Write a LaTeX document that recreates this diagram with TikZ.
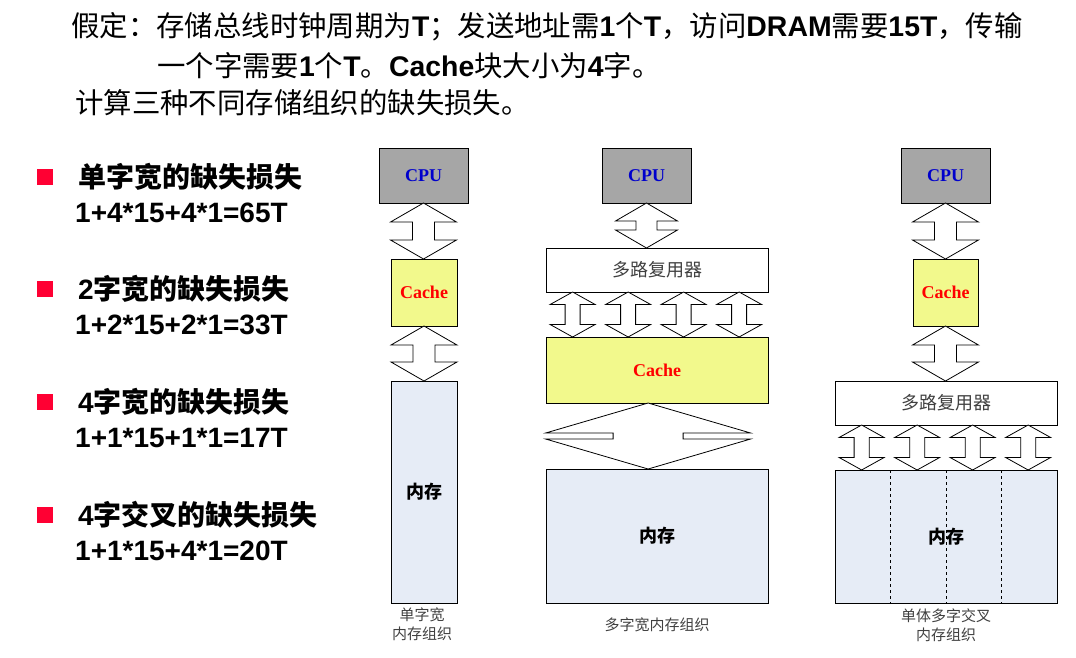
\documentclass[tikz,border=0pt]{standalone}
\usepackage{fontspec}
\setmainfont{Noto Sans CJK SC}
\newfontfamily\arl{Liberation Sans}
\newfontfamily\tms{Liberation Serif}
\usetikzlibrary{calc}

\definecolor{cpugray}{RGB}{166,166,166}
\definecolor{cachefill}{RGB}{242,249,140}
\definecolor{memfill}{RGB}{230,236,246}
\definecolor{cpublue}{RGB}{0,0,204}
\definecolor{bulletred}{RGB}{255,0,51}
\definecolor{muxtext}{RGB}{64,64,64}

\newcommand{\lat}[1]{{\arl\bfseries #1}}

% 双向总线箭头：上端点，下端点，箭头半宽，杆半宽，箭头长
\newcommand{\busarrow}[5]{%
  \draw[busline] let \p1=#1, \p2=#2 in
    (\x1,\y1) -- (\x1+#3,\y1-#5) -- (\x1+#4,\y1-#5) -- (\x1+#4,\y2+#5)
    -- (\x1+#3,\y2+#5) -- (\x1,\y2) -- (\x1-#3,\y2+#5) -- (\x1-#4,\y2+#5)
    -- (\x1-#4,\y1-#5) -- (\x1-#3,\y1-#5) -- cycle;
}

\tikzset{
  box/.style={draw, line width=0.9pt, outer sep=0pt, inner sep=0pt},
  cpubox/.style={box, fill=cpugray, minimum width=89pt, minimum height=55pt,
    text=cpublue, font=\tms\bfseries\fontsize{18}{20}\selectfont},
  cachebox/.style={box, fill=cachefill, text=red,
    font=\tms\bfseries\fontsize{18}{20}\selectfont},
  muxbox/.style={box, fill=white, minimum width=222pt, minimum height=44pt,
    text=muxtext, font=\mdseries\fontsize{18}{20}\selectfont},
  membox/.style={box, fill=memfill, font=\bfseries\fontsize{18}{20}\selectfont},
  busline/.style={draw, fill=white, line width=0.8pt, line join=miter},
  caption/.style={inner sep=0pt, align=center, text=muxtext,
    font=\mdseries\fontsize{15}{19}\selectfont},
  titletext/.style={anchor=west, inner sep=0pt, font=\mdseries\fontsize{28.4}{32}\selectfont},
  itemtext/.style={anchor=west, inner sep=0pt, font=\bfseries\fontsize{28}{32}\selectfont},
  costtext/.style={anchor=west, inner sep=0pt, font=\arl\bfseries\fontsize{28}{32}\selectfont},
}

\begin{document}
\begin{tikzpicture}[x=1pt, y=-1pt]
  \useasboundingbox (0,0) rectangle (1076,657);

  % 题目
  \node[titletext] (title1) at (71,27)
    {假定：存储总线时钟周期为\lat{T}；发送地址需\lat{1}个\lat{T}，访问\lat{DRAM}需要\lat{15T}，传输};
  \node[titletext] (title2) at (157,66)
    {一个字需要\lat{1}个\lat{T}。\lat{Cache}块大小为\lat{4}字。};
  \node[titletext] (title3) at (75,103) {计算三种不同存储组织的缺失损失。};

  % 左侧列表
  \foreach \yy/\head/\cost [count=\i] in {
      177/单字宽的缺失损失/1+4*15+4*1=65T,
      289/\lat{2}字宽的缺失损失/1+2*15+2*1=33T,
      402/\lat{4}字宽的缺失损失/1+1*15+1*1=17T,
      515/\lat{4}字交叉的缺失损失/1+1*15+4*1=20T} {
    \fill[bulletred] (37,\yy-8) rectangle (53,\yy+8);
    \node[itemtext] (item\i) at (78,\yy) {\head};
    \node[costtext] (cost\i) at (75,\yy+36) {\cost};
  }

  % 单字宽内存组织
  \node[cpubox] (cpuA) at (423.5,175.5) {CPU};
  \node[cachebox, minimum width=66pt, minimum height=67pt] (cacheA) at (424,292.5) {Cache};
  \node[membox, minimum width=66pt, minimum height=222pt] (memA) at (424,492) {内存};
  \busarrow{(cpuA.south)}{(cacheA.north)}{33pt}{11pt}{19pt}
  \busarrow{(cacheA.south)}{(memA.north)}{33pt}{11pt}{19pt}
  \node[caption] (capA) at (422,624) {单字宽\\内存组织};

  % 多字宽内存组织
  \node[cpubox] (cpuB) at (646.5,175.5) {CPU};
  \node[muxbox] (muxB) at (657,270) {多路复用器};
  \node[cachebox, minimum width=222pt, minimum height=66pt] (cacheB) at (657,370) {Cache};
  \node[membox, minimum width=222pt, minimum height=134pt] (memB) at (657,536) {内存};
  \busarrow{(cpuB.south)}{(muxB.north)}{31pt}{10.5pt}{18pt}
  \foreach \pos in {0.12,0.37,0.62,0.87} {
    \busarrow{($(muxB.south west)!\pos!(muxB.south east)$)}{(cacheB.north)}{22.5pt}{7.5pt}{12.5pt}
  }
  \busarrow{($(cacheB.south west)!0.46!(cacheB.south east)$)}{(memB.north)}{102.5pt}{35pt}{30pt}
  \node[caption] (capB) at (657,625) {多字宽内存组织};

  % 单体多字交叉内存组织
  \node[cpubox] (cpuC) at (945.5,175.5) {CPU};
  \node[cachebox, minimum width=65pt, minimum height=67pt] (cacheC) at (945.5,292.5) {Cache};
  \node[muxbox] (muxC) at (946,403) {多路复用器};
  \node[membox, minimum width=222pt, minimum height=133pt] (memC) at (946,536.5) {};
  \foreach \pos in {0.25,0.5,0.75}
    \draw[dashed, line width=0.6pt] ($(memC.north west)!\pos!(memC.north east)$)
      -- ($(memC.south west)!\pos!(memC.south east)$);
  \node[font=\bfseries\fontsize{18}{20}\selectfont] (memCtext) at (memC.center) {内存};
  \busarrow{(cpuC.south)}{(cacheC.north)}{33pt}{11pt}{19pt}
  \busarrow{(cacheC.south)}{(muxC.north)}{33pt}{11pt}{19pt}
  \foreach \pos in {0.12,0.37,0.62,0.87} {
    \busarrow{($(muxC.south west)!\pos!(muxC.south east)$)}{(memC.north)}{22.5pt}{7.5pt}{12.5pt}
  }
  \node[caption] (capC) at (946,625) {单体多字交叉\\内存组织};
\end{tikzpicture}
\end{document}
